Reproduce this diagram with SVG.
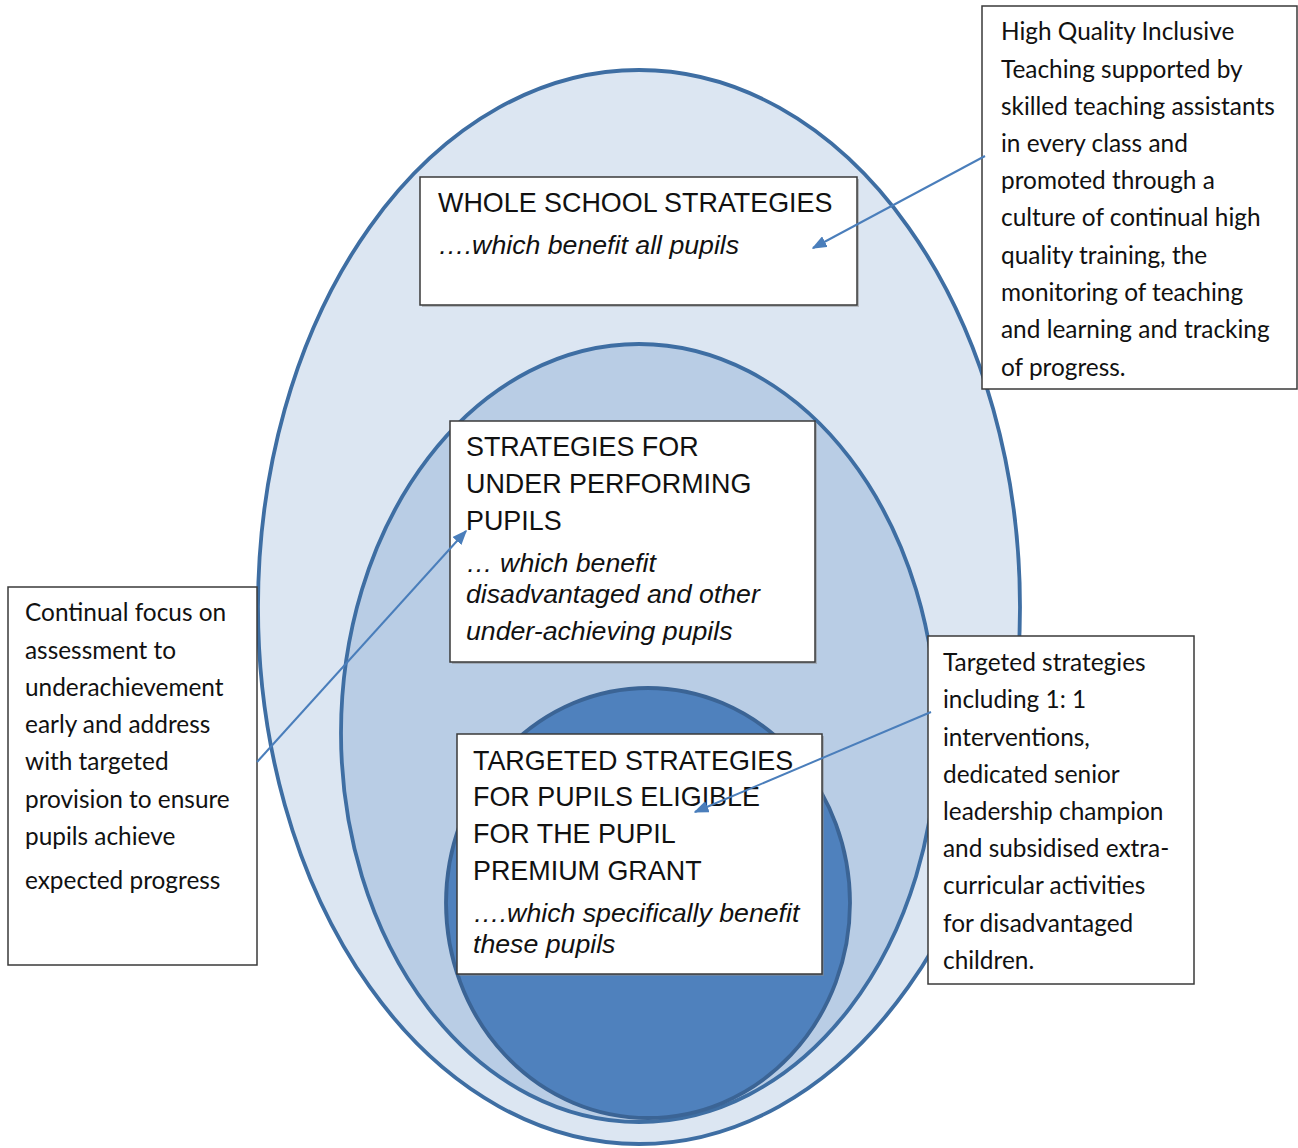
<svg xmlns="http://www.w3.org/2000/svg" width="1298" height="1148" viewBox="0 0 1298 1148">
<defs>
<style>
.ell{stroke-width:3.8}
.box{fill:#ffffff;stroke:#3a3a3a;stroke-width:1.5}
.shadow{fill:#8a8a8a;opacity:0.5}
.t{font-family:"Liberation Sans",Arial,sans-serif;font-size:26.9px;fill:#111}
.ti{font-family:"Liberation Sans",Arial,sans-serif;font-size:26.7px;font-style:italic;fill:#111}
.g{font-family:Lato,"Open Sans",sans-serif;font-size:24.4px;fill:#111}
.conn{stroke:#4a7ebb;stroke-width:2;fill:none}
</style>
<marker id="ah" viewBox="0 0 10 10" refX="9" refY="5" markerWidth="15" markerHeight="12" orient="auto" markerUnits="userSpaceOnUse" preserveAspectRatio="none">
<path d="M0,0 L10,5 L0,10 z" fill="#4a7ebb"/>
</marker>
</defs>
<rect width="1298" height="1148" fill="#ffffff"/>
<g id="ellipses">
<ellipse class="ell" cx="639" cy="607" rx="381" ry="537" fill="#dce6f2" stroke="#3e6ea3"/>
<ellipse class="ell" cx="639" cy="733" rx="298" ry="389" fill="#b9cde5" stroke="#3e6ea3"/>
<ellipse class="ell" cx="648" cy="903" rx="202" ry="215" fill="#4f81bd" stroke="#3b6495"/>
</g>
<g id="node-whole-school">
<rect class="shadow" x="422" y="179" width="437" height="128"/>
<rect class="box" x="420" y="177" width="437" height="128"/>
<text class="t" x="438" y="212">WHOLE SCHOOL STRATEGIES</text>
<text class="ti" x="438" y="254">….which benefit all pupils</text>
</g>
<g id="node-under-performing">
<rect class="shadow" x="452" y="423" width="365" height="241"/>
<rect class="box" x="450" y="421" width="365" height="241"/>
<text class="t" x="466" y="456">STRATEGIES FOR</text>
<text class="t" x="466" y="493">UNDER PERFORMING</text>
<text class="t" x="466" y="530">PUPILS</text>
<text class="ti" x="466" y="572">… which benefit</text>
<text class="ti" x="466" y="603">disadvantaged and other</text>
<text class="ti" x="466" y="640">under-achieving pupils</text>
</g>
<g id="node-targeted">
<rect class="shadow" x="459" y="736" width="365" height="240"/>
<rect class="box" x="457" y="734" width="365" height="240"/>
<text class="t" x="473" y="770">TARGETED STRATEGIES</text>
<text class="t" x="473" y="806">FOR PUPILS ELIGIBLE</text>
<text class="t" x="473" y="843">FOR THE PUPIL</text>
<text class="t" x="473" y="880">PREMIUM GRANT</text>
<text class="ti" x="473" y="922">….which specifically benefit</text>
<text class="ti" x="473" y="953">these pupils</text>
</g>
<g id="node-quality-teaching">
<rect class="box" x="982" y="6" width="315" height="383"/>
<text class="g" x="1001" y="40">High Quality Inclusive</text>
<text class="g" x="1001" y="78">Teaching supported by</text>
<text class="g" x="1001" y="115">skilled teaching assistants</text>
<text class="g" x="1001" y="152">in every class and</text>
<text class="g" x="1001" y="189">promoted through a</text>
<text class="g" x="1001" y="226">culture of continual high</text>
<text class="g" x="1001" y="264">quality training, the</text>
<text class="g" x="1001" y="301">monitoring of teaching</text>
<text class="g" x="1001" y="338">and learning and tracking</text>
<text class="g" x="1001" y="376">of progress.</text>
</g>
<g id="node-continual-focus">
<rect class="box" x="8" y="587" width="249" height="378"/>
<text class="g" x="25" y="621">Continual focus on</text>
<text class="g" x="25" y="659">assessment to</text>
<text class="g" x="25" y="696">underachievement</text>
<text class="g" x="25" y="733">early and address</text>
<text class="g" x="25" y="770">with targeted</text>
<text class="g" x="25" y="808">provision to ensure</text>
<text class="g" x="25" y="845">pupils achieve</text>
<text class="g" x="25" y="889">expected progress</text>
</g>
<g id="node-targeted-strategies">
<rect class="box" x="928" y="636" width="266" height="348"/>
<text class="g" x="943" y="671">Targeted strategies</text>
<text class="g" x="943" y="708">including 1: 1</text>
<text class="g" x="943" y="746">interventions,</text>
<text class="g" x="943" y="783">dedicated senior</text>
<text class="g" x="943" y="820">leadership champion</text>
<text class="g" x="943" y="857">and subsidised extra-</text>
<text class="g" x="943" y="894">curricular activities</text>
<text class="g" x="943" y="932">for disadvantaged</text>
<text class="g" x="943" y="969">children.</text>
</g>
<g id="connectors">
<line class="conn" x1="985" y1="156" x2="813" y2="248" marker-end="url(#ah)"/>
<line class="conn" x1="257" y1="762" x2="466" y2="531" marker-end="url(#ah)"/>
<line class="conn" x1="931" y1="712" x2="695" y2="812" marker-end="url(#ah)"/>
</g>
</svg>
